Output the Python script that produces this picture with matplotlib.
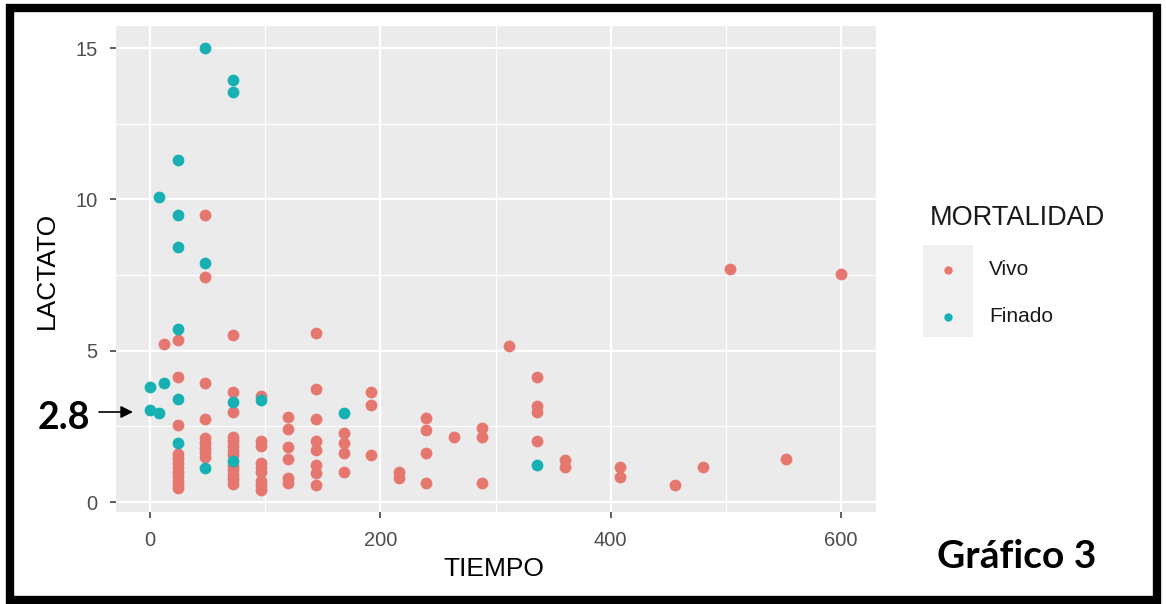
import matplotlib
matplotlib.use("Agg")
import matplotlib.pyplot as plt
from matplotlib.patches import Rectangle
from matplotlib.lines import Line2D

# TIEMPO / LACTATO values, one list per MORTALIDAD group
vivo_tiempo = [12,
               24, 24, 24, 24, 24, 24, 24, 24, 24, 24, 24, 24,
               48, 48, 48, 48, 48, 48, 48, 48, 48,
               72, 72, 72, 72, 72, 72, 72, 72, 72, 72, 72, 72, 72,
               96, 96, 96, 96, 96, 96, 96, 96, 96,
               120, 120, 120, 120, 120, 120,
               144, 144, 144, 144, 144, 144, 144, 144,
               168, 168, 168, 168,
               192, 192, 192,
               216, 216,
               240, 240, 240, 240,
               264,
               288, 288, 288,
               312,
               336, 336, 336, 336,
               360, 360,
               408, 408,
               456, 480, 504, 552, 600]
vivo_lactato = [5.22,
                5.34, 4.13, 2.53, 1.6, 1.45, 1.3, 1.15, 1.0, 0.85, 0.7, 0.55, 0.45,
                9.5, 7.45, 3.93, 2.75, 2.1, 1.95, 1.8, 1.65, 1.5,
                5.53, 3.62, 2.99, 2.15, 2.0, 1.85, 1.7, 1.55, 1.2, 1.05, 0.9, 0.75, 0.6,
                3.49, 2.0, 1.85, 1.3, 1.15, 1.0, 0.7, 0.55, 0.4,
                2.8, 2.41, 1.83, 1.41, 0.78, 0.63,
                5.59, 3.73, 2.75, 2.0, 1.72, 1.23, 0.95, 0.56,
                2.27, 1.94, 1.61, 1.0,
                3.62, 3.2, 1.56,
                1.0, 0.78,
                2.77, 2.38, 1.61, 0.64,
                2.16,
                2.44, 2.16, 0.64,
                5.14,
                4.13, 3.16, 2.99, 2.0,
                1.39, 1.17,
                1.17, 0.82,
                0.56, 1.15, 7.70, 1.41, 7.52]

finado_tiempo = [0, 0, 8, 8, 12,
                 24, 24, 24, 24, 24, 24,
                 48, 48, 48,
                 72, 72, 72, 72,
                 96, 168, 336]
finado_lactato = [3.79, 3.05, 10.08, 2.94, 3.94,
                  11.29, 9.50, 8.43, 5.73, 3.41, 1.94,
                  15.0, 7.90, 1.14,
                  13.94, 13.55, 3.32, 1.36,
                  3.38, 2.94, 1.23]

grupos = ["Vivo", "Finado"]
colores = ["#E5776F", "#17B1B4"]

x_ticks = [0, 200, 400, 600]
y_ticks = [0, 5, 10, 15]

W, H = 1166, 604
fig = plt.figure(figsize=(W / 100, H / 100), dpi=100)
fig.patch.set_facecolor("white")


def fx(px):
    return px / W


def fy(py):
    return 1 - py / H


ax = fig.add_axes([fx(115.5), fy(512), fx(875.5) - fx(115.5), fy(26) - fy(512)])
ax.set_facecolor("#EBEBEB")

ax.scatter(vivo_tiempo, vivo_lactato, s=72, color=colores[0], linewidths=0, zorder=3)
ax.scatter(finado_tiempo, finado_lactato, s=72, color=colores[1], linewidths=0, zorder=3)

# ggplot-like limits (5% expansion)
all_x = vivo_tiempo + finado_tiempo
all_y = vivo_lactato + finado_lactato
dx = (max(all_x) - min(all_x)) * 0.05
dy = (max(all_y) - min(all_y)) * 0.05
ax.set_xlim(min(all_x) - dx, max(all_x) + dx)
ax.set_ylim(min(all_y) - dy, max(all_y) + dy)

ax.set_xticks(x_ticks)
ax.set_yticks(y_ticks)
ax.set_xticks([100, 300, 500], minor=True)
ax.set_yticks([2.5, 7.5, 12.5], minor=True)
ax.grid(which="major", color="white", linewidth=1.6, zorder=0)
ax.grid(which="minor", color="white", linewidth=0.8, zorder=0)
ax.set_axisbelow(True)
for s in ax.spines.values():
    s.set_visible(False)
ax.tick_params(which="major", length=4, width=1.1, color="#333333",
               labelcolor="#4D4D4D", labelsize=14.5)
ax.tick_params(axis="y", which="major", pad=9)
ax.tick_params(axis="x", which="major", pad=10)
ax.tick_params(which="minor", length=0)
for lab in ax.get_xticklabels() + ax.get_yticklabels():
    lab.set_family("Liberation Sans")

fig.text(fx(47), fy(270), "LACTATO", rotation=90, ha="center", va="center",
         fontsize=19, family="Liberation Sans", color="black")
fig.text(fx(494), fy(569), "TIEMPO", ha="center", va="center",
         fontsize=19, family="Liberation Sans", color="black")

# legend drawn by hand
fig.text(fx(930), fy(218), "MORTALIDAD", ha="left", va="center",
         fontsize=19.5, family="Liberation Sans", color="#1A1A1A")
fig.patches.append(Rectangle((fx(923), fy(337)), fx(973) - fx(923), fy(245) - fy(337),
                             transform=fig.transFigure, facecolor="#F0F0F0",
                             edgecolor="none"))
for i, (g, c) in enumerate(zip(grupos, colores)):
    yy = 270 + i * 47
    fig.lines.append(Line2D([fx(948)], [fy(yy)], marker="o", markersize=6,
                            color=c, markeredgewidth=0, transform=fig.transFigure))
    fig.text(fx(989), fy(yy), g, ha="left", va="center", fontsize=15,
             family="Liberation Sans", color="#1A1A1A")

# annotations
fig.text(fx(1017), fy(557), "Gráfico 3", ha="center", va="center",
         fontsize=28, fontweight="bold", family="Lato", color="black")
fig.text(fx(64), fy(418), "2.8", ha="center", va="center",
         fontsize=27, fontweight="bold", family="Lato", color="black")
ax.annotate("", xy=(fx(133), fy(412)), xytext=(fx(99), fy(412)),
            xycoords="figure fraction", textcoords="figure fraction",
            arrowprops=dict(arrowstyle="-|>", color="black", lw=1.2,
                            mutation_scale=18, shrinkA=0, shrinkB=0),
            annotation_clip=False)

# thick outer frame
fig.patches.append(Rectangle((fx(10), fy(600)), fx(1157) - fx(10), fy(8) - fy(600),
                             transform=fig.transFigure, facecolor="none",
                             edgecolor="black", linewidth=6))

fig.savefig("out.png", dpi=100)
